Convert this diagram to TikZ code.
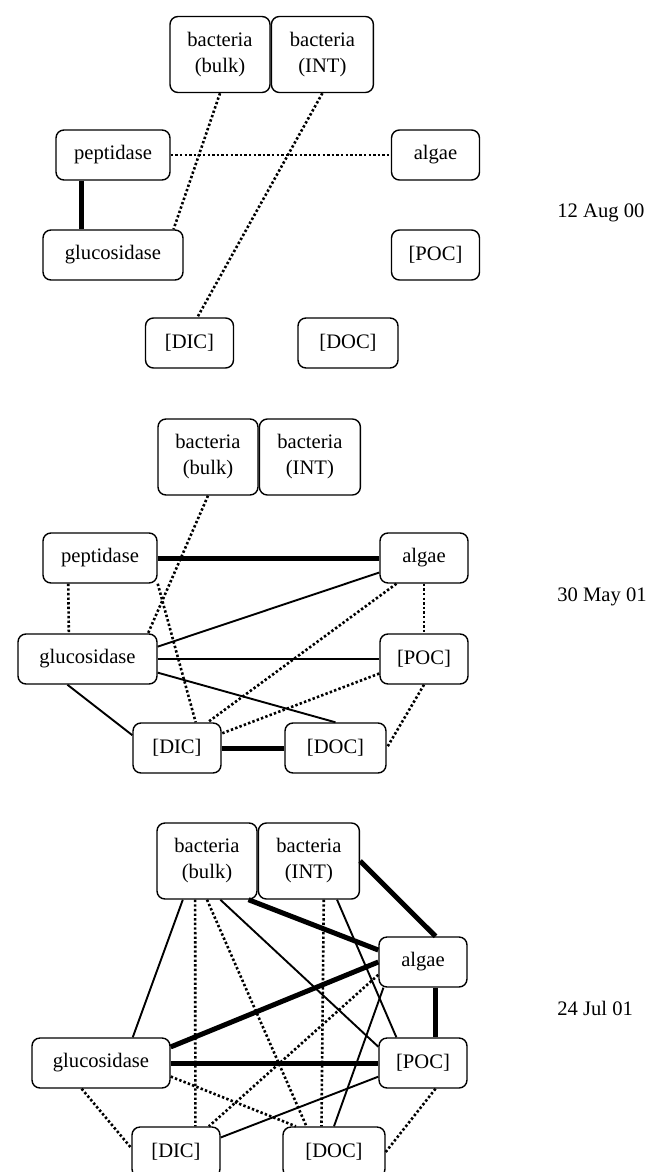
\documentclass[tikz,border=0pt]{standalone}
\usepackage{fontspec}
\setmainfont{Liberation Serif}
\usetikzlibrary{positioning}

\begin{document}
\begin{tikzpicture}[x=0.5pt,y=-0.5pt,
    box node/.style={draw,line width=.7pt,rounded corners=4pt,minimum width=44pt,minimum height=25pt,inner sep=0pt,align=center,font=\fontsize{10.3}{13}\selectfont},
    bact node/.style={box node,minimum width=50pt,minimum height=38pt},
    date node/.style={anchor=west,inner sep=0pt,font=\fontsize{10.3}{13}\selectfont},
    weak edge/.style={line width=1.3pt,dash pattern=on 1.2pt off 1.1pt},
    mid edge/.style={line width=.95pt},
    strong edge/.style={line width=2.5pt}]
    \useasboundingbox (0,0) rectangle (647,1172);

    \node[bact node] (bulk1) at (220,54.5) {bacteria\\(bulk)};
    \node[bact node,minimum width=51pt] (int1) [right=0pt of bulk1] {bacteria\\(INT)};
    \node[box node,minimum width=57pt] (pep1) at (113,155) {peptidase};
    \node[box node] (alg1) at (435.5,155) {algae};
    \node[box node,minimum width=70pt] (gluc1) at (113,255) {glucosidase};
    \node[box node] (poc1) at (435.5,255) {[POC]};
    \node[box node] (dic1) at (189.5,343) {[DIC]};
    \node[box node,minimum width=50pt] (doc1) at (348,343) {[DOC]};
    \node[date node] (date1) at (557,213) {12 Aug 00};

    \path[draw,weak edge]
    (bulk1.south) edge (gluc1.23)
    (int1.south) edge (dic1.73)
    (pep1.east) edge (alg1.west)
    ;
    \path[draw,strong edge]
    (pep1.219) edge (gluc1.141)
    ;

    \node[bact node] (bulk2) at (208,457) {bacteria\\(bulk)};
    \node[bact node,minimum width=50.5pt] (int2) [right=0pt of bulk2] {bacteria\\(INT)};
    \node[box node,minimum width=57pt] (pep2) at (100,558) {peptidase};
    \node[box node] (alg2) at (424,558) {algae};
    \node[box node,minimum width=69.5pt] (gluc2) at (87.5,659) {glucosidase};
    \node[box node] (poc2) at (424,659) {[POC]};
    \node[box node] (dic2) at (177,748) {[DIC]};
    \node[box node,minimum width=50.5pt] (doc2) at (335.5,748) {[DOC]};
    \node[date node] (date2) at (557,597) {30 May 01};

    \path[draw,weak edge]
    (bulk2.south) edge (gluc2.23)
    (pep2.219) edge (gluc2.126)
    (pep2.south east) edge (dic2.54)
    (alg2.223) edge (dic2.40)
    (alg2.south) edge (poc2.north)
    (poc2.198) edge (dic2.18)
    (poc2.south) edge (doc2.east)
    ;
    \path[draw,mid edge]
    (gluc2.10) edge (alg2.198)
    (gluc2.east) edge (poc2.west)
    (gluc2.349) edge (doc2.north)
    (gluc2.232) edge (dic2.164)
    ;
    \path[draw,strong edge]
    (pep2.east) edge (alg2.west)
    (dic2.east) edge (doc2.west)
    ;

    \node[bact node] (bulk3) at (207,861) {bacteria\\(bulk)};
    \node[bact node,minimum width=50.5pt] (int3) [right=0pt of bulk3] {bacteria\\(INT)};
    \node[box node] (alg3) at (423,962) {algae};
    \node[box node,minimum width=69pt] (gluc3) at (101,1063) {glucosidase};
    \node[box node] (poc3) at (423,1063) {[POC]};
    \node[box node] (dic3) at (176,1152) {[DIC]};
    \node[box node,minimum width=51pt] (doc3) at (334,1152) {[DOC]};
    \node[date node] (date3) at (557,1008) {24 Jul 01};

    \path[draw,weak edge]
    (bulk3.253) edge (dic3.53)
    (bulk3.south) edge (doc3.137)
    (int3.291) edge (doc3.116)
    (alg3.196) edge (dic3.38)
    (gluc3.349) edge (doc3.146)
    (gluc3.233) edge (dic3.175)
    (poc3.296) edge (doc3.east)
    ;
    \path[draw,mid edge]
    (bulk3.238) edge (gluc3.39)
    (bulk3.289) edge (poc3.160)
    (int3.306) edge (poc3.136)
    (alg3.213) edge (doc3.north)
    (poc3.197) edge (dic3.18)
    ;
    \path[draw,strong edge]
    (bulk3.317) edge (alg3.165)
    (int3.east) edge (alg3.64)
    (alg3.west) edge (gluc3.13)
    (alg3.296) edge (poc3.64)
    (gluc3.east) edge (poc3.west)
    ;
\end{tikzpicture}
\end{document}
